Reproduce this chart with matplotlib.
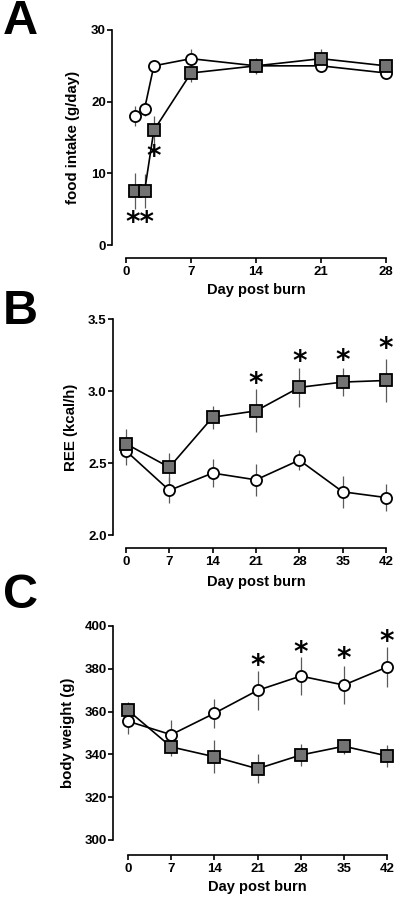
import matplotlib
matplotlib.use("Agg")
import matplotlib.pyplot as plt
import numpy as np

plt.rcParams['font.family'] = ['Liberation Sans', 'DejaVu Sans']
plt.rcParams['font.weight'] = 'bold'

# Panel A: food intake
a_days = [1, 2, 3, 7, 14, 21, 28]
a_sham = [18, 19, 25, 26, 25, 25, 24]
a_sham_err = [1.4, 1.0, 0.8, 1.4, 1.0, 0.9, 0.9]
a_burn = [7.5, 7.5, 16, 24, 25, 26, 25]
a_burn_err = [2.5, 2.4, 2.0, 1.2, 1.1, 1.4, 0.9]
a_star_x = [1.5, 3]
a_star_y = [3.7, 12.8]
a_star_txt = ['**', '*']
a_xticks = [0, 7, 14, 21, 28]
a_yticks = [0, 10, 20, 30]

# Panel B: REE
b_days = [0, 7, 14, 21, 28, 35, 42]
b_sham = [2.584, 2.31, 2.43, 2.383, 2.52, 2.30, 2.26]
b_sham_err = [0.1, 0.09, 0.095, 0.11, 0.07, 0.11, 0.095]
b_burn = [2.633, 2.47, 2.818, 2.862, 3.025, 3.062, 3.073]
b_burn_err = [0.1, 0.1, 0.08, 0.15, 0.135, 0.1, 0.15]
b_star_x = [21, 28, 35, 42]
b_star_y = [3.075, 3.23, 3.24, 3.32]
b_star_txt = ['*', '*', '*', '*']
b_xticks = [0, 7, 14, 21, 28, 35, 42]
b_yticks = [2.0, 2.5, 3.0, 3.5]

# Panel C: body weight
c_days = [0, 7, 14, 21, 28, 35, 42]
c_sham = [355.5, 349.2, 359.2, 369.9, 376.6, 372.4, 380.8]
c_sham_err = [6, 7, 6.8, 9, 9, 9, 9.3]
c_burn = [360.6, 343.5, 338.9, 333.3, 339.7, 343.8, 339.3]
c_burn_err = [4, 4.2, 7.6, 6.7, 5, 3.5, 5]
c_star_x = [21, 28, 35, 42]
c_star_y = [383.2, 389.5, 386.4, 394.3]
c_star_txt = ['*', '*', '*', '*']
c_xticks = [0, 7, 14, 21, 28, 35, 42]
c_yticks = [300, 320, 340, 360, 380, 400]

W, H = 400, 902
fig = plt.figure(figsize=(W / 100, H / 100), dpi=100)

def px_axes(l, r, t, b):
    return fig.add_axes([l / W, 1 - b / H, (r - l) / W, (b - t) / H])

def style(ax, xlim, ylim, xticks, yticks, ylabel, yfmt, yout, xout, ylab_x, xlab_y):
    ax.set_xlim(*xlim)
    ax.set_ylim(*ylim)
    for s in ['top', 'right']:
        ax.spines[s].set_visible(False)
    ax.spines['left'].set_position(('outward', yout * 0.72))
    ax.spines['bottom'].set_position(('outward', xout * 0.72))
    for s in ['left', 'bottom']:
        ax.spines[s].set_linewidth(1.2)
    ax.set_xticks(xticks)
    ax.set_yticks(yticks)
    ax.set_yticklabels([yfmt(v) for v in yticks])
    ax.tick_params(axis='both', direction='out', length=3.5, width=1.2,
                   labelsize=9.5)
    ax.tick_params(axis='y', pad=1.0)
    ax.tick_params(axis='x', pad=2.5)
    for lab in ax.get_xticklabels() + ax.get_yticklabels():
        lab.set_fontweight('bold')
    ax.set_ylabel(ylabel, fontsize=10.8, fontweight='bold')
    ax.yaxis.set_label_coords(ylab_x, 0.5)
    ax.set_xlabel('Day post burn', fontsize=10.5, fontweight='bold')
    ax.xaxis.set_label_coords(0.5, xlab_y)
    ax.patch.set_alpha(0)

def draw(ax, x, y1, e1, y2, e2):
    ecol = '#5a5a5a'
    kw_err = dict(fmt='none', ecolor=ecol, elinewidth=0.9, capsize=0, clip_on=False, zorder=1)
    ax.errorbar(x, y1, yerr=e1, **kw_err)
    ax.errorbar(x, y2, yerr=e2, **kw_err)
    ax.plot(x, y1, '-', color='black', lw=1.2, marker='o', ms=8, mfc='white',
            mec='black', mew=1.3, clip_on=False, zorder=3)
    ax.plot(x, y2, '-', color='black', lw=1.2, marker='s', ms=8, mfc='#737373',
            mec='black', mew=1.3, clip_on=False, zorder=4)

def stars(ax, xs, ys, txts):
    for x, y, t in zip(xs, ys, txts):
        ax.annotate(t, (x, y), xytext=(0, -3), textcoords='offset points',
                    ha='center', va='center', fontsize=20,
                    fontweight='bold', family='DejaVu Sans')

# A
axA = px_axes(126, 386, 30, 245)
draw(axA, a_days, a_sham, a_sham_err, a_burn, a_burn_err)
style(axA, (0, 28), (0, 30), a_xticks, a_yticks, 'food intake (g/day)',
      lambda v: f'{v:d}', 14, 13, -0.177, -0.177)
stars(axA, a_star_x, a_star_y, a_star_txt)

# B
axB = px_axes(126, 386, 319, 535)
draw(axB, b_days, b_sham, b_sham_err, b_burn, b_burn_err)
style(axB, (0, 42), (2.0, 3.5), b_xticks, b_yticks, 'REE (kcal/h)',
      lambda v: f'{v:.1f}', 13, 13, -0.185, -0.185)
stars(axB, b_star_x, b_star_y, b_star_txt)

# C
axC = px_axes(128, 387, 626, 840)
draw(axC, c_days, c_sham, c_sham_err, c_burn, c_burn_err)
style(axC, (0, 42), (300, 400), c_xticks, c_yticks, 'body weight (g)',
      lambda v: f'{v:d}', 15, 15, -0.205, -0.187)
stars(axC, c_star_x, c_star_y, c_star_txt)

for lab, y in [('A', 22), ('B', 311), ('C', 595)]:
    fig.text(3 / W, 1 - y / H, lab, fontsize=35, fontweight='bold',
             ha='left', va='center')

fig.savefig('out.png', dpi=100)
